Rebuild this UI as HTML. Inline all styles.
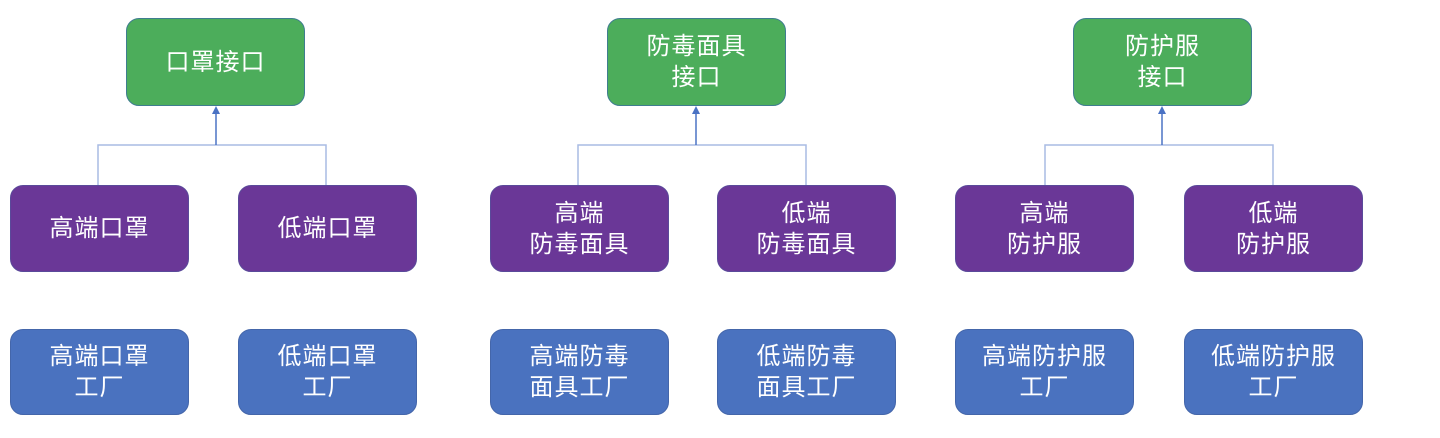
<!DOCTYPE html>
<html><head><meta charset="utf-8"><style>
body{margin:0;width:1440px;height:438px;background:#fff;position:relative;overflow:hidden;font-family:"Liberation Sans","Noto Sans CJK SC",sans-serif;}
.b{position:absolute;box-sizing:border-box;border-radius:13px;color:#fff;font-size:24px;letter-spacing:1px;line-height:31px;display:flex;align-items:center;justify-content:center;text-align:center;}
.g{background:#4cad5b;border:1px solid #3f7d8f;top:18px;height:88px;width:179px;}
.p{background:#6a3797;border:1px solid #5a4a9a;top:185px;height:87px;width:179px;}
.u{background:#4a72bf;border:1px solid #4466aa;top:329px;height:86px;width:179px;}
svg{position:absolute;left:0;top:0}
</style></head><body>
<svg width="1440" height="438">
<g fill="none" stroke="#a9bce4" stroke-width="1.5">
<path d="M98 185V145H326V185"/><path d="M578 185V145H806V185"/><path d="M1045 185V145H1273V185"/>
</g>
<g stroke="#4a72c4" stroke-width="1.5">
<line x1="216" y1="145" x2="216" y2="112"/><line x1="696" y1="145" x2="696" y2="112"/><line x1="1162" y1="145" x2="1162" y2="112"/>
</g>
<g fill="#4a72c4">
<path d="M216 106l-4 8h8z"/><path d="M696 106l-4 8h8z"/><path d="M1162 106l-4 8h8z"/>
</g>
</svg>
<div class="b g" style="left:126px">口罩接口</div>
<div class="b g" style="left:607px">防毒面具<br>接口</div>
<div class="b g" style="left:1073px">防护服<br>接口</div>
<div class="b p" style="left:10px">高端口罩</div>
<div class="b p" style="left:238px">低端口罩</div>
<div class="b p" style="left:490px">高端<br>防毒面具</div>
<div class="b p" style="left:717px">低端<br>防毒面具</div>
<div class="b p" style="left:955px">高端<br>防护服</div>
<div class="b p" style="left:1184px">低端<br>防护服</div>
<div class="b u" style="left:10px">高端口罩<br>工厂</div>
<div class="b u" style="left:238px">低端口罩<br>工厂</div>
<div class="b u" style="left:490px">高端防毒<br>面具工厂</div>
<div class="b u" style="left:717px">低端防毒<br>面具工厂</div>
<div class="b u" style="left:955px">高端防护服<br>工厂</div>
<div class="b u" style="left:1184px">低端防护服<br>工厂</div>
</body></html>
